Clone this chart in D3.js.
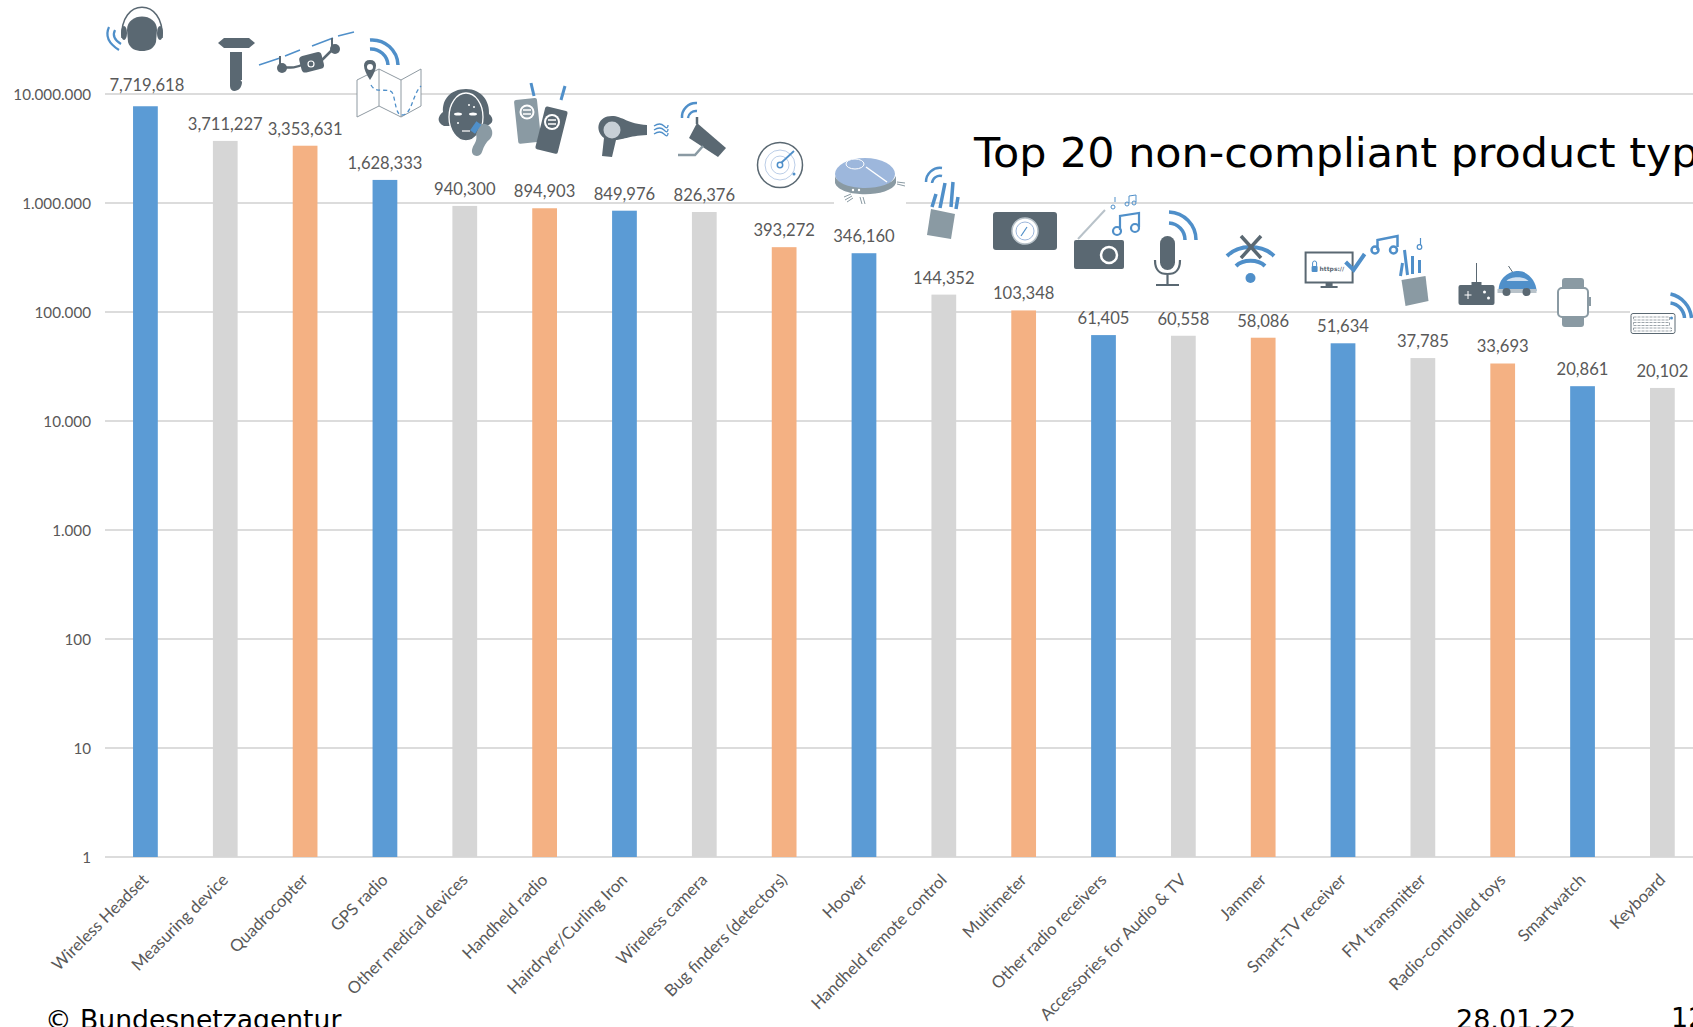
<!DOCTYPE html>
<html><head><meta charset="utf-8">
<script src="https://cdn.jsdelivr.net/npm/d3@7/dist/d3.min.js"></script>
<style>
html,body{margin:0;padding:0;background:#fff;overflow:hidden}
svg{display:block}
</style></head><body>
<svg id="c" width="1693" height="1027"></svg>
<script>
const categories = ["Wireless Headset","Measuring device","Quadrocopter","GPS radio","Other medical devices","Handheld radio","Hairdryer/Curling Iron","Wireless camera","Bug finders (detectors)","Hoover","Handheld remote control","Multimeter","Other radio receivers","Accessories for Audio & TV","Jammer","Smart-TV receiver","FM transmitter","Radio-controlled toys","Smartwatch","Keyboard"];
const values = [7719618,3711227,3353631,1628333,940300,894903,849976,826376,393272,346160,144352,103348,61405,60558,58086,51634,37785,33693,20861,20102];
const yTicks = [1,10,100,1000,10000,100000,1000000,10000000];
const yTickLabels = ["1","10","100","1.000","10.000","100.000","1.000.000","10.000.000"];
const palette = ["#5B9BD5","#D6D6D6","#F4B183"];
const titleText = "Top 20 non-compliant product types";
const footerLeft = "\u00A9 Bundesnetzagentur";
const footerDate = "28.01.22";
const footerPage = "12";

const svg = d3.select("#c");
const txt = "#595959", LAB = "Lato, 'Open Sans', sans-serif";
const x = d3.scaleBand().domain(categories).range([105.5,1702.3]).paddingInner(0.69).paddingOuter(0.345);
const y = d3.scaleLog().domain([1,10000000]).range([857,94]);

// gridlines
svg.append("g").selectAll("line").data(yTicks).join("line")
  .attr("x1",105).attr("x2",1693).attr("y1",d=>y(d)).attr("y2",d=>y(d))
  .attr("stroke","#DCDCDC").attr("stroke-width",2);

// white patches that the pasted pictures leave on the gridlines
svg.append("rect").attr("x",834).attr("y",195).attr("width",72).attr("height",12).attr("fill","#fff");
svg.append("rect").attr("x",1630).attr("y",306).attr("width",63).attr("height",12).attr("fill","#fff");

// y axis labels
svg.append("g").selectAll("text").data(yTicks).join("text")
  .attr("x",91).attr("y",d=>y(d)+5.5).attr("text-anchor","end")
  .attr("font-family",LAB).attr("font-size",15.2).attr("fill",txt)
  .text((d,i)=>yTickLabels[i]);

// bars
svg.append("g").selectAll("rect").data(categories).join("rect")
  .attr("x",d=>x(d)).attr("width",x.bandwidth())
  .attr("y",(d,i)=>y(values[i])).attr("height",(d,i)=>y(1)-y(values[i]))
  .attr("fill",(d,i)=>palette[i%3]);

// value labels
const fmt = d3.format(",");
svg.append("g").selectAll("text").data(categories).join("text")
  .attr("x",d=>x(d)+x.bandwidth()/2+(d===categories[0]?1.5:0))
  .attr("y",(d,i)=>y(values[i])-(i===0?15:11))
  .attr("text-anchor","middle").attr("font-family",LAB).attr("font-size",16.6).attr("fill",txt)
  .text((d,i)=>fmt(values[i]));

// category labels
svg.append("g").selectAll("text").data(categories).join("text")
  .attr("transform",d=>`translate(${x(d)+x.bandwidth()/2+4},881) rotate(-45)`)
  .attr("text-anchor","end").attr("font-family",LAB).attr("font-size",16.7).attr("fill",txt)
  .text(d=>d);

// title and footer
svg.append("text").attr("transform","translate(974,167) scale(1.046,1)").attr("font-family","'DejaVu Sans'").attr("font-size",41).attr("fill","#000").text(titleText);
svg.append("text").attr("x",45).attr("y",1029).attr("font-family","'DejaVu Sans'").attr("font-size",26.6).attr("fill","#000").text(footerLeft);
svg.append("text").attr("x",1456).attr("y",1029).attr("font-family","'DejaVu Sans'").attr("font-size",27).attr("fill","#000").text(footerDate);
svg.append("text").attr("x",1671).attr("y",1027).attr("font-family","'DejaVu Sans'").attr("font-size",27).attr("fill","#000").text(footerPage);

// pictograms
const D="#5A6872",B="#4F8FC9",M="#8A9AA3",L="#9DB7DC";
const arcs=(s,w=2)=>`fill="none" stroke="${s}" stroke-width="${w}"`;
const icons = [
// headset
`<path d="M127 30 C127 12 157 12 157 30 L156 42 C154 49 148 51 142 51 C136 51 130 49 128 42Z" fill="${D}"/>
 <path d="M122 38 C119 -3 165 -3 162 38" ${arcs(D,1.5)}/>
 <ellipse cx="124" cy="33" rx="3" ry="7" fill="${D}"/><ellipse cx="160" cy="33" rx="3" ry="7" fill="${D}"/>
 <path d="M109 27 Q103 40 119 50" ${arcs(B,2.2)}/><path d="M115 30 Q111 38 121 44" ${arcs(B,2.2)}/>`,
// measuring device
`<path d="M218 43 L224 38 H249 L255 43 L249 48 H224Z" fill="${D}"/>
 <path d="M230 52 H242 V80 H236 V74 L242 82 C242 92 230 94 230 86Z" fill="${D}"/>`,
// drone
`<path d="M259 65 L280 58 M285 56 L300 50 M312 46 L333 38 M338 36 L354 32" ${arcs(B,1.5)}/>
 <path d="M282 67 C292 68 296 68 304 64 L322 60 L334 48" ${arcs(D,2.5)}/>
 <rect x="300" y="54" width="23" height="17" rx="4" fill="${D}" transform="rotate(-14 311 62)"/>
 <circle cx="311" cy="64" r="3" fill="none" stroke="#fff" stroke-width="1.2"/>
 <circle cx="282" cy="68" r="5" fill="${D}"/><circle cx="335" cy="49" r="5" fill="${D}"/>
 <path d="M280 56 V66 M332 38 V48" ${arcs(D,2)}/>`,
// GPS map
`<path d="M357 80 L379 69 L401 80 L421 69 V106 L401 117 L379 106 L357 117Z" fill="#fff" stroke="#8F9AA2" stroke-width="1"/>
 <path d="M379 69 V106 M401 80 V117" ${arcs("#8F9AA2",1)}/>
 <path d="M371 85 C376 95 390 86 393 94 C396 104 396 115 402 115 C412 115 412 95 421 86" fill="none" stroke="${B}" stroke-width="1.3" stroke-dasharray="4 3"/>
 <path d="M370 80 C362 68 362 60 370 60 C378 60 378 68 370 80Z" fill="${D}"/><circle cx="370" cy="67" r="3" fill="#fff"/>
 <path d="M370 40 A26 26 0 0 1 398 65" ${arcs(B,3.5)}/><path d="M370 49 A17 17 0 0 1 388 65" ${arcs(B,3.5)}/>`,
// face
`<path d="M466 89 C482 89 490 102 489 114 C494 118 494 124 486 126 L444 126 C436 122 438 116 443 112 C442 100 450 89 466 89Z" fill="${D}"/>
 <ellipse cx="466" cy="117" rx="17" ry="24" fill="${D}" stroke="#fff" stroke-width="1.3"/>
 <ellipse cx="458" cy="114" rx="4" ry="1.6" fill="#fff"/><ellipse cx="473" cy="114" rx="4" ry="1.6" fill="#fff"/>
 <path d="M462 131 H470" ${arcs("#fff",1.2)}/>
 <circle cx="469" cy="105" r="1" fill="#fff"/><circle cx="474" cy="107" r="1" fill="#fff"/><circle cx="458" cy="123" r="1" fill="#fff"/>
 <path d="M480 124 C492 122 495 134 490 139 C486 142 484 146 482 152 C480 158 471 157 472 150 C473 144 478 142 476 134Z" fill="${M}"/>
 <rect x="473" y="122" width="6" height="11" fill="${B}" transform="rotate(35 476 127)"/>`,
// handheld radios
`<path d="M531 83 L534 96" ${arcs(B,3)}/><path d="M565 86 L561 100" ${arcs(B,3)}/>
 <rect x="516" y="99" width="23" height="44" rx="2" fill="${M}" transform="rotate(-6 527 120)"/>
 <circle cx="527" cy="112" r="7.5" fill="#fff"/><circle cx="527" cy="112" r="5.5" fill="${M}"/><path d="M523 110 H531 M523 114 H531" ${arcs("#fff",1.5)}/>
 <rect x="540" y="108" width="23" height="44" rx="2" fill="${D}" transform="rotate(14 551 130)"/>
 <circle cx="552" cy="122" r="8" fill="#fff"/><circle cx="552" cy="122" r="6" fill="${D}"/><path d="M548 120 H556 M548 124 H556" ${arcs("#fff",1.5)}/>`,
// hairdryer
`<path d="M612 116 C622 116 628 124 647 125 V135 C628 136 622 140 616 140 L612 157 L602 156 L604 138 C594 130 598 116 612 116Z" fill="${D}"/>
 <circle cx="612" cy="130" r="8.5" fill="#C8D0D7"/>
 <path d="M654 126 Q660 122 664 126 T668 125 M654 130 Q660 126 664 130 T668 129 M654 134 Q660 130 664 134 T668 133" ${arcs(B,1.3)}/>`,
// wireless camera
`<path d="M682 118 A14 14 0 0 1 697 103" ${arcs(B,2.5)}/><path d="M688 118 A8 8 0 0 1 697 111" ${arcs(B,2.5)}/>
 <path d="M697 117 V124" ${arcs(D,2.5)}/>
 <path d="M697 123 L726 148 L718 157 L689 138Z" fill="${D}"/>
 <path d="M678 155 H695 L703 146" ${arcs(M,2.5)}/>`,
// bug finder radar
`<circle cx="780" cy="165" r="22.5" fill="#fff" stroke="${D}" stroke-width="1.5"/>
 <circle cx="780" cy="165" r="15" ${arcs(L,0.7)}/><circle cx="780" cy="165" r="9" ${arcs(L,0.7)}/>
 <path d="M781 163 L794 151" ${arcs(B,1.8)}/><circle cx="780" cy="165" r="2.7" fill="#fff" stroke="${B}" stroke-width="1.5"/>
 <circle cx="794" cy="174" r="1.5" fill="${B}"/>`,
// hoover
`<ellipse cx="865" cy="174" rx="30" ry="16" fill="${L}"/>
 <path d="M835 176 V183 C840 198 890 198 896 183 V176 C890 192 840 192 835 176Z" fill="${M}"/>
 <ellipse cx="855" cy="164" rx="9" ry="5" fill="${L}" stroke="#fff" stroke-width="1"/>
 <path d="M866 167 L887 182" ${arcs("#fff",1.5)}/>
 <circle cx="853" cy="190" r="1.2" fill="#fff"/><circle cx="859" cy="190" r="1.2" fill="#fff"/>
 <path d="M844 197 L851 194 M845 200 L852 196 M847 202 L853 198 M860 197 L862 204 M863 197 L865 204 M897 182 L905 183 M897 184 L905 186" ${arcs(M,1)}/>`,
// handheld remote
`<path d="M926 182 A14 14 0 0 1 942 168" ${arcs(B,2.5)}/><path d="M932 183 A8 8 0 0 1 942 176" ${arcs(B,2.5)}/>
 <path d="M932 207 L936 194 M940 208 L945 183 M951 207 L953 182 M956 209 L958 197" ${arcs(B,3.5)}/>
 <path d="M931 209 L955 214 L951 239 L927 235Z" fill="${M}"/>`,
// multimeter
`<rect x="993" y="212" width="64" height="38" rx="3" fill="${D}"/>
 <circle cx="1025" cy="231" r="13" fill="#fff" stroke="#B8C2C9" stroke-width="1.5"/><circle cx="1025" cy="231" r="9" ${arcs(L,1)}/>
 <path d="M1021 236 L1027 227" ${arcs(B,1.2)}/>`,
// radio receiver
`<path d="M1078 239 L1105 210" ${arcs("#B8C2C9",2)}/>
 <rect x="1074" y="240" width="50" height="29" rx="2" fill="${D}"/>
 <circle cx="1109" cy="255" r="8" fill="none" stroke="#fff" stroke-width="2.5"/>
 <path d="M1120 230 V216 L1139 213 V227" ${arcs(B,2.2)}/><circle cx="1117" cy="231" r="4" ${arcs(B,2.2)}/><circle cx="1135" cy="228" r="4" ${arcs(B,2.2)}/>
 <path d="M1115 202 V197 M1129 203 V196 L1136 195 V202" ${arcs(B,1)}/><circle cx="1113" cy="207" r="2" ${arcs(B,1)}/><circle cx="1127" cy="204" r="2" ${arcs(B,1)}/><circle cx="1134" cy="203" r="2" ${arcs(B,1)}/>`,
// microphone
`<path d="M1169 212 A28 28 0 0 1 1196 240" ${arcs(B,3.5)}/><path d="M1169 223 A17 17 0 0 1 1185 240" ${arcs(B,3.5)}/>
 <rect x="1160" y="236" width="15" height="34" rx="7.5" fill="${D}"/>
 <path d="M1155 260 C1155 272 1161 274 1167.500 274 C1174 274 1180 272 1180 260 M1167.500 274 V285 M1156 285 H1179" ${arcs(D,2.2)}/>`,
// jammer
`<g transform="translate(3,0)"><path d="M1224 256 C1236 244 1259 244 1271 256" ${arcs(B,4)}/><path d="M1233 266 C1240 259 1255 259 1262 266" ${arcs(B,4)}/>
 <circle cx="1247.500" cy="278" r="5" fill="${B}"/>
 <path d="M1238 236 L1258 258 M1258 236 L1238 258" ${arcs(D,3.5)}/></g>`,
// smart-TV
`<g transform="translate(4.600,0)"><rect x="1301" y="252.500" width="47" height="30" fill="#fff" stroke="${D}" stroke-width="2"/>
 <path d="M1321 283 H1328 V286 H1333 V288 H1316 V286 H1321Z" fill="${D}"/>
 <rect x="1307" y="266" width="6" height="6" rx="1" fill="${B}"/><path d="M1308 266 V263 A2 2 0 0 1 1312 263 V266" ${arcs(B,1)}/>
 <text x="1315" y="271" font-family="'DejaVu Sans'" font-size="6" font-weight="bold" fill="${D}">https://</text>
 <path d="M1341 262 L1349 270 L1360 254" ${arcs(B,4)}/></g>`,
// FM transmitter
`<g transform="translate(6.500,0)"><path d="M1371 250 V240 L1391 236 V247" ${arcs(B,2.500)}/><circle cx="1368.500" cy="250" r="3.500" ${arcs(B,2.500)}/><circle cx="1387" cy="250" r="3.500" ${arcs(B,2.500)}/>
 <path d="M1414 245 V238" ${arcs(B,1.2)}/><circle cx="1413" cy="247" r="2.300" ${arcs(B,1.200)}/>
 <path d="M1394 276 L1396 263 M1401 275 L1398 250 M1406 274 L1406 256 M1413 273 L1413 260" ${arcs(B,3)}/>
 <path d="M1395 280 L1419 276 L1422 301 L1399 306Z" fill="${M}"/></g>`,
// RC toys
`<g transform="translate(8.500,0)"><path d="M1468 263 V284" ${arcs(D,1)}/>
 <rect x="1450" y="285" width="36" height="20" rx="2" fill="${D}"/><rect x="1463" y="282" width="10" height="5" fill="${D}"/>
 <path d="M1456 295 H1463 M1459.500 291 V299" ${arcs("#fff",1)}/><circle cx="1476" cy="292" r="1.5" fill="#fff"/><circle cx="1480" cy="298" r="1.5" fill="#fff"/>
 <path d="M1500 266 L1504 272" ${arcs(D,1)}/>
 <path d="M1490 291 C1490 278 1500 271 1510 271 C1520 271 1528 282 1528 291Z" fill="${B}"/>
 <path d="M1498 281 C1502 276 1516 276 1520 281Z" fill="#CFE0F1"/>
 <rect x="1489" y="289" width="39" height="4" fill="#B8C2C9"/>
 <circle cx="1498" cy="292" r="4" fill="${D}"/><circle cx="1518" cy="292" r="4" fill="${D}"/></g>`,
// smartwatch
`<g transform="translate(10,0)"><rect x="1552" y="278" width="22" height="49" rx="3" fill="${M}"/>
 <rect x="1548" y="288" width="30" height="29" rx="4" fill="#fff" stroke="${M}" stroke-width="2"/>
 <rect x="1579" y="297" width="2" height="9" fill="${M}"/></g>`,
// keyboard
`<g transform="translate(11.500,0)"><rect x="1619.500" y="313.500" width="44" height="20" rx="2" fill="#fff" stroke="${D}" stroke-width="1"/>
 <path d="M1622 317 H1658 V320 H1622Z M1622 322.500 H1658 V325.500 H1622Z M1622 328 H1660 V331 H1622Z" fill="none" stroke="${D}" stroke-width=".6" stroke-dasharray="3 1"/>
 <circle cx="1660" cy="318" r="1.5" fill="${B}"/>
 <path d="M1659 294 A27 27 0 0 1 1680 318" ${arcs(B,3.5)}/><path d="M1659 303 A16 16 0 0 1 1673 318" ${arcs(B,3.5)}/></g>`
];
svg.append("g").selectAll("g").data(icons).join("g").html(d=>d);
</script>
</body></html>
